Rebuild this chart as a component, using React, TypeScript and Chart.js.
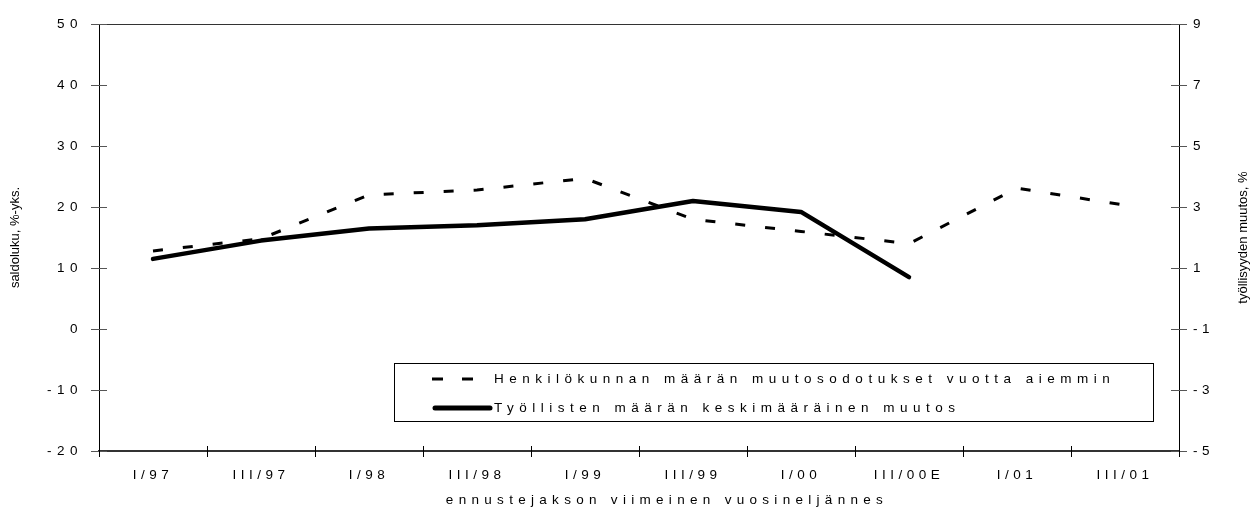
import { useEffect, useRef } from "react";
import { Chart, registerables } from "chart.js";

Chart.register(...registerables);

const categories = ["I/97", "III/97", "I/98", "III/98", "I/99", "III/99", "I/00", "III/00E", "I/01", "III/01"];
const expectationValues = [12.8, 14.8, 22.0, 22.8, 24.7, 18.0, 16.0, 14.0, 23.1, 20.3];
const employmentValues = [1.3, 1.9, 2.3, 2.4, 2.6, 3.2, 2.84, 0.7, null, null];
const seriesLabels = [
  "Henkilökunnan määrän muutosodotukset vuotta aiemmin",
  "Työllisten määrän keskimääräinen muutos",
];
const leftTicks = [-20, -10, 0, 10, 20, 30, 40, 50];
const rightTicks = [-5, -3, -1, 1, 3, 5, 7, 9];
const leftTitle = "saldoluku, %-yks.";
const rightTitle = "työllisyyden muutos, %";
const xTitle = "ennustejakson viimeinen vuosineljännes";

const FONT = "'Liberation Sans', Arial, sans-serif";

function spacedLabels(spacing: string) {
  return (s: any) => {
    if (s.__spaced) return;
    s.__spaced = true;
    const orig = s.drawLabels;
    s.drawLabels = function (area: any) {
      const ctx = this.ctx as any;
      const prev = ctx.letterSpacing;
      ctx.letterSpacing = spacing;
      orig.call(this, area);
      ctx.letterSpacing = prev;
    };
  };
}

const decorPlugin = {
  id: "decor",
  afterDraw(chart: any) {
    const ctx = chart.ctx as CanvasRenderingContext2D & { letterSpacing: string };
    const { left, right, top, bottom } = chart.chartArea;
    const yS = chart.scales.y;
    const y1S = chart.scales.y1;
    const xS = chart.scales.x;
    ctx.save();
    // top frame
    ctx.strokeStyle = "#333";
    ctx.lineWidth = 1;
    ctx.beginPath();
    ctx.moveTo(left, Math.round(top) + 0.5);
    ctx.lineTo(right, Math.round(top) + 0.5);
    ctx.stroke();
    // y tick marks crossing axis
    ctx.strokeStyle = "#555";
    ctx.beginPath();
    yS.ticks.forEach((t: any) => {
      const py = Math.round(yS.getPixelForValue(t.value)) + 0.5;
      ctx.moveTo(left - 8, py);
      ctx.lineTo(left + 8, py);
    });
    y1S.ticks.forEach((t: any) => {
      const py = Math.round(y1S.getPixelForValue(t.value)) + 0.5;
      ctx.moveTo(right - 8, py);
      ctx.lineTo(right + 8, py);
    });
    ctx.stroke();
    // x tick marks at category boundaries
    ctx.strokeStyle = "#000";
    ctx.beginPath();
    const n = categories.length;
    for (let i = 0; i <= n; i++) {
      let px;
      if (i === 0) px = left;
      else if (i === n) px = right;
      else px = (xS.getPixelForValue(i - 1) + xS.getPixelForValue(i)) / 2;
      px = Math.round(px) + 0.5;
      ctx.moveTo(px, bottom - 5);
      ctx.lineTo(px, bottom + 6);
    }
    ctx.stroke();

    // axis titles
    ctx.fillStyle = "#000";
    ctx.font = `13px ${FONT}`;
    ctx.letterSpacing = "0px";
    ctx.textAlign = "center";
    ctx.textBaseline = "middle";
    const midY = (top + bottom) / 2;
    ctx.save();
    ctx.translate(15, midY);
    ctx.rotate(-Math.PI / 2);
    ctx.fillText(leftTitle, 0, 0);
    ctx.restore();
    ctx.save();
    ctx.translate(1243, midY);
    ctx.rotate(-Math.PI / 2);
    ctx.fillText(rightTitle, 0, 0);
    ctx.restore();
    ctx.font = `13.5px ${FONT}`;
    ctx.letterSpacing = "5.3px";
    ctx.fillText(xTitle, 667, 500);

    // legend box
    const bx = 394.5, by = 363.5, bw = 759, bh = 58;
    ctx.strokeStyle = "#000";
    ctx.lineWidth = 1;
    ctx.strokeRect(bx, by, bw, bh);
    const ds = chart.data.datasets;
    const rows = [379, 408];
    ctx.save();
    ctx.lineWidth = ds[0].borderWidth;
    ctx.setLineDash([11, 19]);
    ctx.lineCap = "butt";
    ctx.beginPath();
    ctx.moveTo(432, rows[0]);
    ctx.lineTo(475, rows[0]);
    ctx.stroke();
    ctx.restore();
    ctx.save();
    ctx.lineWidth = 5;
    ctx.lineCap = "round";
    ctx.beginPath();
    ctx.moveTo(435, rows[1]);
    ctx.lineTo(490, rows[1]);
    ctx.stroke();
    ctx.restore();
    ctx.textAlign = "left";
    ctx.letterSpacing = "5.5px";
    ctx.fillText(ds[0].label, 494, rows[0]);
    ctx.fillText(ds[1].label, 494, rows[1]);
    ctx.restore();
  },
};

export default function App() {
  const ref = useRef<HTMLCanvasElement | null>(null);
  useEffect(() => {
    if (!ref.current) return;
    const tickFont = { family: FONT, size: 13.5 };
    const chart = new Chart(ref.current, {
      type: "line",
      data: {
        labels: categories,
        datasets: [
          {
            label: seriesLabels[0],
            data: expectationValues,
            yAxisID: "y",
            borderColor: "#000",
            borderWidth: 3,
            borderDash: [10, 20],
            borderCapStyle: "butt",
            pointRadius: 0,
            tension: 0,
            fill: false,
          },
          {
            label: seriesLabels[1],
            data: employmentValues as any,
            yAxisID: "y1",
            borderColor: "#000",
            borderWidth: 4.5,
            borderCapStyle: "round",
            borderJoinStyle: "round",
            pointRadius: 0,
            tension: 0,
            fill: false,
            spanGaps: false,
          },
        ],
      },
      options: {
        animation: false,
        responsive: true,
        maintainAspectRatio: false,
        layout: { padding: { top: 19, left: 0, right: 0, bottom: 0 } },
        plugins: { legend: { display: false }, tooltip: { enabled: false } },
        events: [],
        scales: {
          x: {
            type: "category",
            offset: true,
            grid: { display: false, drawTicks: false, tickLength: 0 },
            border: { display: true, color: "#333", width: 2 },
            ticks: {
              autoSkip: false,
              maxRotation: 0,
              minRotation: 0,
              padding: 16,
              color: "#000",
              font: tickFont,
            },
            afterFit: (s: any) => {
              s.height = 60;
              spacedLabels("4.5px")(s);
            },
          },
          y: {
            position: "left",
            min: -20,
            max: 50,
            grid: { display: false, drawTicks: false, tickLength: 0 },
            border: { display: true, color: "#000", width: 1 },
            ticks: { padding: 16, color: "#000", font: tickFont },
            afterBuildTicks: (s: any) => {
              s.ticks = leftTicks.map((v) => ({ value: v }));
            },
            afterFit: (s: any) => {
              s.width = 99;
              spacedLabels("5.5px")(s);
            },
          },
          y1: {
            position: "right",
            min: -5,
            max: 9,
            grid: { display: false, drawTicks: false, tickLength: 0 },
            border: { display: true, color: "#000", width: 1 },
            ticks: { padding: 14, color: "#000", font: tickFont },
            afterBuildTicks: (s: any) => {
              s.ticks = rightTicks.map((v) => ({ value: v }));
            },
            afterFit: (s: any) => {
              s.width = 75;
              spacedLabels("4.5px")(s);
            },
          },
        },
      },
      plugins: [decorPlugin],
    });
    return () => chart.destroy();
  }, []);
  return (
    <div style={{ position: "absolute", left: 0, top: 0, width: 1254, height: 511, background: "#fff" }}>
      <canvas ref={ref} />
    </div>
  );
}
